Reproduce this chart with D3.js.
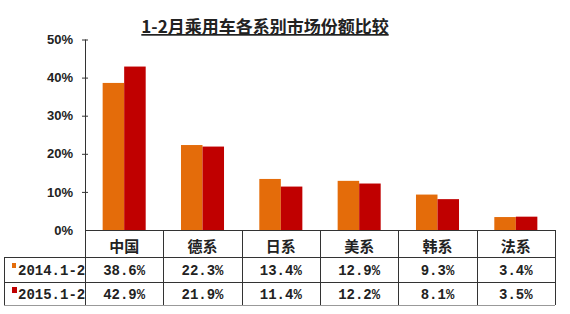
<!DOCTYPE html>
<html>
<head>
<meta charset="utf-8">
<script src="https://cdn.jsdelivr.net/npm/d3@7"></script>
<style>
  body { margin: 0; background: #fff; }
</style>
</head>
<body>
<div id="chart"></div>
<script>
const categories = ["中国", "德系", "日系", "美系", "韩系", "法系"];
const seriesNames = ["2014.1-2", "2015.1-2"];
const values2014 = [38.6, 22.3, 13.4, 12.9, 9.3, 3.4];
const values2015 = [42.9, 21.9, 11.4, 12.2, 8.1, 3.5];
const yTicks = [0, 10, 20, 30, 40, 50];

const COLORS = ["#E46C0A", "#C00000"];
const CJK = "'Noto Sans CJK SC', sans-serif";
const MONO = "'Liberation Mono', 'DejaVu Sans Mono', monospace";
const W = 570, H = 314;
const LEFT = 85, RIGHT = 555, TOP = 39.5, BASE = 230;
const ROW1 = 257, ROW2 = 282, ROW3 = 305, TABLE_LEFT = 4;

const svg = d3.select("#chart").append("svg")
  .attr("width", W).attr("height", H);

// title
svg.append("text")
  .attr("x", 265).attr("y", 33)
  .attr("text-anchor", "middle")
  .style("font-family", CJK)
  .attr("font-size", 17).attr("font-weight", "bold")
  .attr("text-decoration", "underline")
  .attr("fill", "#222")
  .text("1-2月乘用车各系别市场份额比较");

// scales
const x0 = d3.scaleBand().domain(categories).range([LEFT, RIGHT]).padding(0);
const x1 = d3.scaleBand().domain(seriesNames).range([0, x0.bandwidth()])
  .paddingInner(0).paddingOuter(0.82);
const y = d3.scaleLinear().domain([0, 50]).range([BASE, TOP]);

const data = categories.map((c, i) => ({ cat: c, vals: [values2014[i], values2015[i]] }));

// bars
const groups = svg.selectAll("g.cat").data(data).join("g")
  .attr("class", "cat")
  .attr("transform", d => `translate(${x0(d.cat)},0)`);

groups.selectAll("rect")
  .data(d => d.vals.map((v, k) => ({ s: seriesNames[k], v, k })))
  .join("rect")
  .attr("x", d => x1(d.s))
  .attr("y", d => y(d.v))
  .attr("width", x1.bandwidth())
  .attr("height", d => BASE - y(d.v))
  .attr("fill", d => COLORS[d.k]);

// y axis
const yAxis = svg.append("g").attr("transform", `translate(${LEFT},0)`)
  .call(d3.axisLeft(y).tickValues(yTicks).tickSize(3).tickFormat(d => d + "%"));
yAxis.select(".domain").remove();
yAxis.selectAll(".tick line").attr("x1", -3).attr("x2", 3).attr("stroke", "#333");
yAxis.selectAll(".tick text")
  .attr("x", -12)
  .style("font-family", "'Liberation Sans', Arial, sans-serif")
  .style("font-size", "13px").style("font-weight", "bold").attr("fill", "#222");
yAxis.selectAll(".tick").filter(d => d === 0).select("line").remove();
svg.append("line")
  .attr("x1", LEFT + 0.5).attr("x2", LEFT + 0.5)
  .attr("y1", TOP).attr("y2", ROW3)
  .attr("stroke", "#333");

// table lines
const line = (xa, ya, xb, yb, c) => svg.append("line")
  .attr("x1", xa).attr("y1", ya).attr("x2", xb).attr("y2", yb)
  .attr("stroke", c || "#333").attr("stroke-width", 1);
line(LEFT, BASE + 0.5, RIGHT, BASE + 0.5);
line(TABLE_LEFT, ROW1 + 0.5, RIGHT, ROW1 + 0.5);
line(TABLE_LEFT, ROW2 + 0.5, RIGHT, ROW2 + 0.5);
line(TABLE_LEFT, ROW3 + 0.5, RIGHT, ROW3 + 0.5, "#999");
line(TABLE_LEFT + 0.5, ROW1, TABLE_LEFT + 0.5, ROW3);
categories.forEach(c => {
  const xe = Math.round(x0(c) + x0.bandwidth()) + 0.5;
  line(xe, BASE, xe, ROW3);
});

// header
svg.selectAll("text.cat").data(categories).join("text")
  .attr("class", "cat")
  .attr("x", d => x0(d) + x0.bandwidth() / 2)
  .attr("y", 252)
  .attr("text-anchor", "middle")
  .style("font-family", CJK)
  .attr("font-size", 15).attr("font-weight", "bold").attr("fill", "#222")
  .text(d => d);

// rows
const rows = [
  { name: seriesNames[0], vals: values2014, cy: (ROW1 + ROW2) / 2 },
  { name: seriesNames[1], vals: values2015, cy: (ROW2 + ROW3) / 2 }
];
svg.append("clipPath").attr("id", "labclip")
  .append("rect").attr("x", TABLE_LEFT).attr("y", ROW1).attr("width", LEFT - TABLE_LEFT).attr("height", ROW3 - ROW1);

rows.forEach((r, k) => {
  svg.append("rect")
    .attr("x", 12).attr("y", r.cy - 6.5)
    .attr("width", k === 0 ? 4 : 5).attr("height", k === 0 ? 5 : 6)
    .attr("fill", COLORS[k]);
  svg.append("text")
    .attr("clip-path", "url(#labclip)")
    .attr("x", 18).attr("y", r.cy + 5)
    .style("font-family", MONO)
    .attr("font-size", 14).attr("font-weight", "bold").attr("fill", "#222")
    .text(r.name);
  svg.selectAll(null).data(r.vals).join("text")
    .attr("x", (d, i) => x0(categories[i]) + x0.bandwidth() / 2)
    .attr("y", r.cy + 5)
    .attr("text-anchor", "middle")
    .style("font-family", MONO)
    .attr("font-size", 14).attr("font-weight", "bold").attr("fill", "#222")
    .text(d => d.toFixed(1) + "%");
});
</script>
</body>
</html>
